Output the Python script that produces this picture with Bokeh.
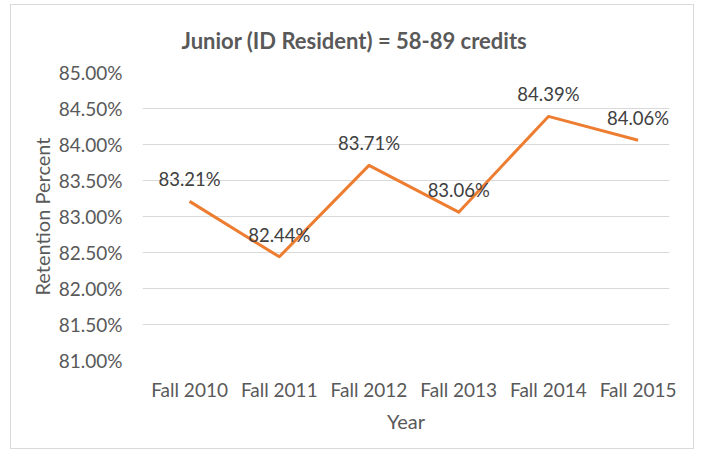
from bokeh.plotting import figure
from bokeh.models import ColumnDataSource, Range1d, FixedTicker, PrintfTickFormatter, Label
from bokeh.embed import file_html
from bokeh.resources import INLINE

title_text = "Junior (ID Resident) = 58-89 credits"
categories = ["Fall 2010", "Fall 2011", "Fall 2012", "Fall 2013", "Fall 2014", "Fall 2015"]
retention = [83.21, 82.44, 83.71, 83.06, 84.39, 84.06]
y_ticks = [81.0, 81.5, 82.0, 82.5, 83.0, 83.5, 84.0, 84.5, 85.0]

xs = list(range(len(categories)))
src = ColumnDataSource(dict(x=xs, y=retention))

FONT = "Lato"
GREY = "#595959"

p = figure(width=684, height=445, output_backend="svg", toolbar_location=None,
           x_range=Range1d(-0.525, 5.35), y_range=Range1d(81, 85),
           min_border_left=131, min_border_right=26, min_border_top=66, min_border_bottom=90)
p.styles = {"border": "1px solid #d9d9d9", "margin-left": "10px", "margin-top": "4px"}

p.title.text = title_text
p.title.align = "left"
p.title.offset = 39
p.title.standoff = 38
p.title.text_font = FONT
p.title.text_font_size = "22px"
p.title.text_font_style = "bold"
p.title.text_color = GREY

p.outline_line_color = None
p.background_fill_color = "white"
p.border_fill_color = "white"

p.xgrid.grid_line_color = None
p.ygrid.grid_line_color = "#d9d9d9"
p.ygrid.grid_line_width = 1

p.yaxis.ticker = FixedTicker(ticks=y_ticks)
p.yaxis.formatter = PrintfTickFormatter(format="%.2f%%")
p.xaxis.ticker = FixedTicker(ticks=xs)
p.xaxis.major_label_overrides = {i: c for i, c in enumerate(categories)}

for ax in (p.xaxis[0], p.yaxis[0]):
    ax.axis_line_color = None
    ax.major_tick_line_color = None
    ax.minor_tick_line_color = None
    ax.major_tick_out = 0
    ax.major_tick_in = 0
    ax.major_label_text_font = FONT
    ax.major_label_text_font_size = "19px"
    ax.major_label_text_color = GREY
    ax.axis_label_text_font = FONT
    ax.axis_label_text_font_size = "20px"
    ax.axis_label_text_font_style = "normal"
    ax.axis_label_text_color = GREY

p.yaxis.axis_label = "Retention Percent"
p.yaxis.major_label_standoff = 20
p.yaxis.axis_label_standoff = 2
p.xaxis.axis_label = "Year"
p.xaxis.major_label_standoff = 17
p.xaxis.axis_label_standoff = 5

p.line("x", "y", source=src, line_color="#ED7D31", line_width=3, line_join="round")

for xi, v in zip(xs, retention):
    p.add_layout(Label(x=xi, y=v, text=f"{v:.2f}%", text_align="center",
                       text_baseline="middle", y_offset=22, text_font=FONT,
                       text_font_size="18.5px", text_color="#404040"))

open("out.html", "w").write(file_html(p, INLINE))
